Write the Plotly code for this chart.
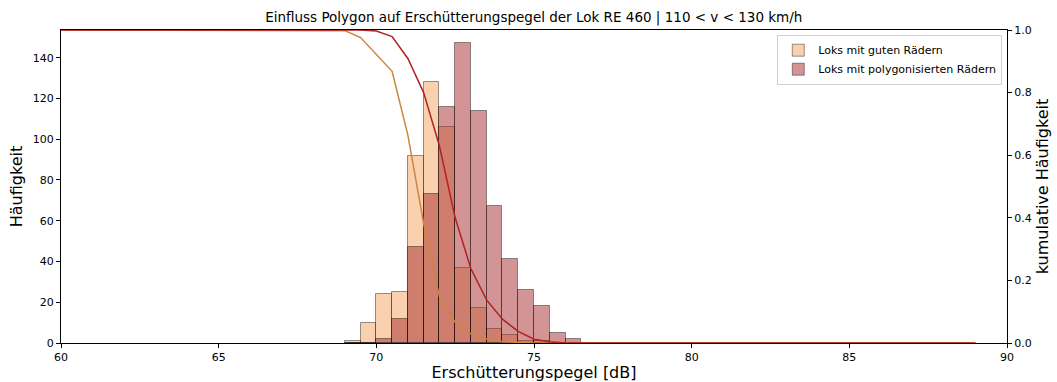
import plotly.graph_objects as go

# Histogramm (Klassenmitten, Breite 0.5 dB)
bin_centers = [69.25, 69.75, 70.25, 70.75, 71.25, 71.75, 72.25, 72.75,
               73.25, 73.75, 74.25, 74.75, 75.25, 75.75, 76.25]
counts_good = [1, 10, 24, 25, 92, 128, 106, 37, 17, 7, 4, 1, 1, 0, 0]
counts_poly = [0, 0, 2, 12, 47, 73, 116, 147, 114, 67, 41, 26, 18, 5, 2]

# kumulative Häufigkeit
cum_x_good = [60, 68.5, 69.0, 69.5, 70.0, 70.5, 71.0, 71.5, 72.0, 72.5, 73.0, 73.5, 74.0, 74.5, 75.0, 89]
cum_good = [1.0, 1.0, 0.998, 0.976, 0.923, 0.868, 0.664, 0.382, 0.148, 0.066, 0.029, 0.013, 0.004, 0.002, 0.0, 0.0]
cum_x_poly = [60, 69.5, 70.0, 70.5, 71.0, 71.5, 72.0, 72.5, 73.0, 73.5, 74.0, 74.5, 75.0, 75.5, 76.0, 89]
cum_poly = [1.0, 1.0, 0.997, 0.979, 0.909, 0.80, 0.63, 0.40, 0.237, 0.137, 0.076, 0.037, 0.012, 0.004, 0.0, 0.0]

font = "DejaVu Sans"

fig = go.Figure()
fig.add_trace(go.Bar(x=bin_centers, y=counts_good, width=0.5, name="Loks mit guten Rädern",
                     marker=dict(color="rgba(244,164,96,0.5)",
                                 line=dict(color="rgba(0,0,0,0.4)", width=1))))
fig.add_trace(go.Bar(x=bin_centers, y=counts_poly, width=0.5, name="Loks mit polygonisierten Rädern",
                     marker=dict(color="rgba(165,42,42,0.5)",
                                 line=dict(color="rgba(0,0,0,0.4)", width=1))))
fig.add_trace(go.Scatter(x=cum_x_good, y=cum_good, yaxis="y2", mode="lines",
                         line=dict(color="peru", width=1.5), showlegend=False))
fig.add_trace(go.Scatter(x=cum_x_poly, y=cum_poly, yaxis="y2", mode="lines",
                         line=dict(color="firebrick", width=1.5), showlegend=False))

fig.update_layout(
    width=1057, height=382,
    barmode="overlay", bargap=0,
    plot_bgcolor="white", paper_bgcolor="white",
    font=dict(family=font, size=11, color="black"),
    margin=dict(l=61, r=50, t=30, b=39, autoexpand=False),
    title=dict(text="Einfluss Polygon auf Erschütterungspegel der Lok RE 460 | 110 < v < 130 km/h",
               x=0.505, xanchor="center", y=0.955, yanchor="middle", font=dict(size=13.5)),
    xaxis=dict(range=[60, 90], dtick=5, showgrid=False, zeroline=False, automargin=False,
               showline=True, linecolor="black", linewidth=1, mirror=True,
               ticks="outside", ticklen=4, tickcolor="black",
               title=dict(text="Erschütterungspegel [dB]", font=dict(size=16), standoff=4)),
    yaxis=dict(range=[0, 153.6], dtick=20, showgrid=False, zeroline=False, automargin=False,
               showline=True, linecolor="black", linewidth=1,
               ticks="outside", ticklen=4, tickcolor="black",
               title=dict(text="Häufigkeit", font=dict(size=16), standoff=6)),
    yaxis2=dict(range=[0, 1], dtick=0.2, tickformat=".1f", overlaying="y", side="right",
                showgrid=False, zeroline=False, showline=True, linecolor="black", linewidth=1,
                automargin=False, ticks="outside", ticklen=4, tickcolor="black",
                title=dict(text="kumulative Häufigkeit", font=dict(size=16), standoff=6)),
    legend=dict(x=0.995, y=0.985, xanchor="right", yanchor="top",
                bgcolor="rgba(255,255,255,0.8)", bordercolor="#d0d0d0", borderwidth=1,
                font=dict(size=11), tracegroupgap=0),
)

fig.write_html("out.html", config={"displayModeBar": False},
               post_script="document.body.style.margin='0';")
